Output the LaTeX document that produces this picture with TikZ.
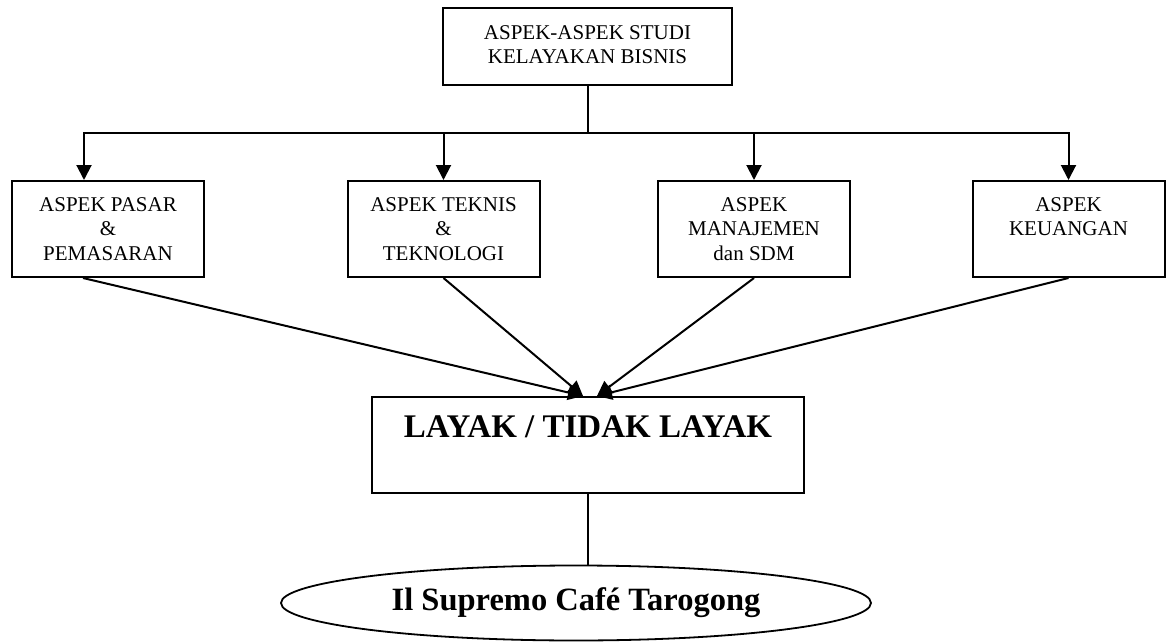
\documentclass[tikz,border=0pt]{standalone}
\usepackage{fontspec}
\setmainfont{Liberation Serif}
\usetikzlibrary{arrows.meta,shapes.geometric}
\begin{document}
\begin{tikzpicture}[x=1pt,y=-1pt,
  box/.style={draw, line width=2pt, inner sep=0pt, minimum height=96pt, minimum width=192pt},
  txt/.style={font=\fontsize{21}{24.8}\selectfont, align=center, inner sep=0pt, anchor=north},
  bigtxt/.style={font=\fontsize{33}{38}\selectfont\bfseries, inner sep=0pt, anchor=north},
  conn/.style={line width=2pt},
  thinconn/.style={line width=1.6pt},
  arr/.style={line width=2pt, -{Triangle[length=15pt,width=15pt]}}]
\useasboundingbox (0,0) rectangle (1168,642);
% boxes
\node[box, minimum width=289pt, minimum height=77pt] (top) at (587.5,46.5) {};
\node[box] (b1) at (108,229) {};
\node[box] (b2) at (443.5,229) {};
\node[box] (b3) at (754,229) {};
\node[box] (b4) at (1068.5,229) {};
\node[box, minimum width=432pt] (big) at (588,445) {};
\node[draw, ellipse, line width=1.8pt, inner sep=0pt, minimum width=590pt, minimum height=75pt,
      font=\fontsize{32.5}{38}\selectfont\bfseries] (ell) at (576,603) {Il Supremo Café Tarogong};
% texts
\node[txt] (ttop) at ([yshift=-18pt]top.north) {ASPEK-ASPEK STUDI\\KELAYAKAN BISNIS};
\node[txt] (t1) at ([yshift=-17pt]b1.north) {ASPEK PASAR\\\&\\PEMASARAN};
\node[txt] (t2) at ([yshift=-17pt]b2.north) {ASPEK TEKNIS\\\&\\TEKNOLOGI};
\node[txt] (t3) at ([yshift=-17pt]b3.north) {ASPEK\\MANAJEMEN\\dan SDM};
\node[txt] (t4) at ([yshift=-17pt]b4.north) {ASPEK\\KEUANGAN};
\node[bigtxt] (tbig) at ([yshift=-20pt]big.north) {LAYAK / TIDAK LAYAK};
% top connectors
\coordinate (bar) at (587.5,133);
\coordinate (a1) at ([xshift=-24pt]b1.north);
\draw[conn] (top.south) -- (bar);
\draw[arr] (bar) -| (a1);
\draw[arr] (bar) -| (b4.north);
\draw[arr] (b2.north |- bar) -- (b2.north);
\draw[arr] (b3.north |- bar) -- (b3.north);
% lower connectors
\coordinate (s1) at ([xshift=-25pt]b1.south);
\coordinate (e1) at ([xshift=-5pt]big.north);
\coordinate (e2) at ([xshift=9pt]big.north);
\draw[arr] (s1) -- (e1);
\draw[arr] (b2.south) -- (e1);
\draw[arr] (b3.south) -- (e2);
\draw[arr] (b4.south) -- (e2);
% bottom connector
\draw[thinconn] (big.south) -- (big.south |- ell.north);
\end{tikzpicture}
\end{document}
